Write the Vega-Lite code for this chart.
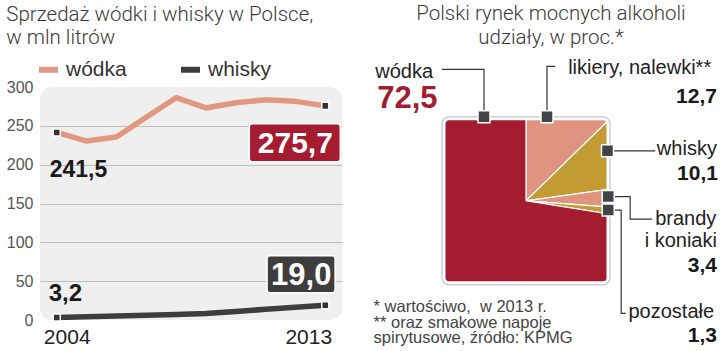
{
  "$schema": "https://vega.github.io/schema/vega-lite/v6.json",
  "padding": {"left": 6, "top": 4, "right": 0, "bottom": 0},
  "background": "#ffffff",
  "config": {
    "view": {"stroke": null},
    "font": "Liberation Sans",
    "locale": {"number": {"decimal": ",", "thousands": "\u00a0", "grouping": [3], "currency": ["", " zł"]}}
  },
  "datasets": {
    "sprzedaz": [
      {"rok": 2004, "seria": "wódka", "mln": 241.5},
      {"rok": 2005, "seria": "wódka", "mln": 230.4},
      {"rok": 2006, "seria": "wódka", "mln": 235.6},
      {"rok": 2007, "seria": "wódka", "mln": 261.0},
      {"rok": 2008, "seria": "wódka", "mln": 286.2},
      {"rok": 2009, "seria": "wódka", "mln": 273.0},
      {"rok": 2010, "seria": "wódka", "mln": 279.8},
      {"rok": 2011, "seria": "wódka", "mln": 283.6},
      {"rok": 2012, "seria": "wódka", "mln": 281.5},
      {"rok": 2013, "seria": "wódka", "mln": 275.7},
      {"rok": 2004, "seria": "whisky", "mln": 3.2},
      {"rok": 2005, "seria": "whisky", "mln": 4.1},
      {"rok": 2006, "seria": "whisky", "mln": 5.0},
      {"rok": 2007, "seria": "whisky", "mln": 6.0},
      {"rok": 2008, "seria": "whisky", "mln": 7.0},
      {"rok": 2009, "seria": "whisky", "mln": 8.3},
      {"rok": 2010, "seria": "whisky", "mln": 11.0},
      {"rok": 2011, "seria": "whisky", "mln": 13.8},
      {"rok": 2012, "seria": "whisky", "mln": 16.4},
      {"rok": 2013, "seria": "whisky", "mln": 19.0}
    ],
    "udzialy": [
      {"kategoria": "likiery, nalewki", "udzial": 12.7, "kolejnosc": 1},
      {"kategoria": "whisky", "udzial": 10.1, "kolejnosc": 2},
      {"kategoria": "brandy i koniaki", "udzial": 3.4, "kolejnosc": 3},
      {"kategoria": "pozostałe", "udzial": 1.3, "kolejnosc": 4},
      {"kategoria": "wódka", "udzial": 72.5, "kolejnosc": 5}
    ],
    "etykiety": [
      {"u": -1.795, "v": 1.458, "tekst": "wódka", "rodzaj": "nazwa"},
      {"u": -1.771, "v": 1.101, "tekst": "72,5", "rodzaj": "wyrozniona"},
      {"u": 0.502, "v": 1.510, "tekst": "likiery, nalewki**", "rodzaj": "nazwa"},
      {"u": 2.273, "v": 1.169, "tekst": "12,7", "rodzaj": "liczba"},
      {"u": 1.558, "v": 0.545, "tekst": "whisky", "rodzaj": "nazwa"},
      {"u": 2.285, "v": 0.248, "tekst": "10,1", "rodzaj": "liczba"},
      {"u": 1.538, "v": -0.288, "tekst": "brandy", "rodzaj": "nazwa"},
      {"u": 2.273, "v": -0.545, "tekst": "i koniaki", "rodzaj": "nazwa_p"},
      {"u": 2.273, "v": -0.843, "tekst": "3,4", "rodzaj": "liczba"},
      {"u": 1.220, "v": -1.399, "tekst": "pozostałe", "rodzaj": "nazwa"},
      {"u": 2.273, "v": -1.676, "tekst": "1,3", "rodzaj": "liczba"},
      {"u": -1.815, "v": -1.319, "tekst": "* wartościwo,\u00a0 w 2013 r.", "rodzaj": "przypis"},
      {"u": -1.815, "v": -1.512, "tekst": "** oraz smakowe napoje", "rodzaj": "przypis"},
      {"u": -1.815, "v": -1.696, "tekst": "spirytusowe, źródło: KPMG", "rodzaj": "przypis"}
    ],
    "linie": [
      {"id": "wódka", "krok": 1, "u": -1.0, "v": 1.565},
      {"id": "wódka", "krok": 2, "u": -0.5, "v": 1.565},
      {"id": "wódka", "krok": 3, "u": -0.5, "v": 1.002},
      {"id": "likiery", "krok": 1, "u": 0.25, "v": 1.002},
      {"id": "likiery", "krok": 2, "u": 0.25, "v": 1.601},
      {"id": "likiery", "krok": 3, "u": 0.348, "v": 1.601},
      {"id": "whisky", "krok": 1, "u": 0.97, "v": 0.595},
      {"id": "whisky", "krok": 2, "u": 1.538, "v": 0.595},
      {"id": "brandy", "krok": 1, "u": 0.979, "v": 0.05},
      {"id": "brandy", "krok": 2, "u": 1.24, "v": 0.05},
      {"id": "brandy", "krok": 3, "u": 1.24, "v": -0.217},
      {"id": "brandy", "krok": 4, "u": 1.499, "v": -0.217},
      {"id": "pozostałe", "krok": 1, "u": 0.979, "v": -0.11},
      {"id": "pozostałe", "krok": 2, "u": 1.133, "v": -0.11},
      {"id": "pozostałe", "krok": 3, "u": 1.133, "v": -1.339},
      {"id": "pozostałe", "krok": 4, "u": 1.188, "v": -1.339}
    ],
    "znaczniki": [
      {"kategoria": "wódka", "u": -0.5, "v": 1.002},
      {"kategoria": "likiery, nalewki", "u": 0.25, "v": 1.002},
      {"kategoria": "whisky", "u": 0.97, "v": 0.595},
      {"kategoria": "brandy i koniaki", "u": 0.979, "v": 0.05},
      {"kategoria": "pozostałe", "u": 0.979, "v": -0.11}
    ]
  },
  "spacing": 31,
  "resolve": {"scale": {"color": "independent"}, "legend": {"color": "independent"}},
  "hconcat": [
    {
      "width": 302,
      "height": 233,
      "data": {"name": "sprzedaz"},
      "title": {
        "text": ["Sprzedaż wódki i whisky w Polsce,", "w mln litrów"],
        "anchor": "start", "frame": "bounds", "offset": 8.5,
        "font": "Roboto", "fontSize": 20.5, "fontWeight": 300, "color": "#3a3a3a", "lineHeight": 23.5
      },
      "view": {"fill": "#efefef", "cornerRadius": 12, "stroke": null},
      "encoding": {
        "x": {
          "field": "rok", "type": "quantitative",
          "scale": {"domain": [2003.44, 2013.56], "nice": false, "zero": false},
          "axis": {
            "values": [2004, 2013], "format": "d", "title": null, "domain": false, "ticks": false, "grid": false,
            "labelFont": "Liberation Sans", "labelFontSize": 21, "labelColor": "#222222", "labelPadding": 6,
            "labelFlush": false,
            "labelOffset": {"condition": {"test": "datum.value == 2004", "value": 10}, "value": -17}
          }
        },
        "y": {
          "field": "mln", "type": "quantitative",
          "scale": {"domain": [0, 300], "nice": false, "zero": false},
          "axis": {
            "values": [0, 50, 100, 150, 200, 250, 300], "title": null, "domain": false, "ticks": false,
            "labelPadding": 7, "labelFont": "Liberation Sans", "labelFontSize": 16, "labelColor": "#555555",
            "labelFlush": false,
            "gridColor": "#bdbdbd", "gridWidth": 1,
            "gridOpacity": {"condition": {"test": "datum.value == 0 || datum.value == 300", "value": 0}, "value": 1}
          }
        }
      },
      "layer": [
        {
          "mark": {"type": "line", "strokeWidth": 5.5, "strokeCap": "butt", "strokeJoin": "round"},
          "encoding": {
            "color": {
              "field": "seria", "type": "nominal",
              "scale": {"domain": ["wódka", "whisky"], "range": ["#e2987f", "#3d3d3d"]},
              "legend": {
                "title": null, "orient": "none", "legendX": -4, "legendY": -30, "direction": "horizontal",
                "padding": 0, "symbolType": "stroke", "symbolStrokeWidth": 6, "symbolSize": 361,
                "labelFont": "Liberation Sans", "labelFontSize": 21, "labelColor": "#333333",
                "labelOffset": 5, "columnPadding": 42
              }
            }
          }
        },
        {
          "transform": [{"filter": "datum.rok == 2004 || datum.rok == 2013"}],
          "mark": {"type": "square", "size": 50, "filled": true, "fill": "#333333", "stroke": "#ffffff", "strokeWidth": 1.5, "opacity": 1}
        },
        {
          "transform": [{"filter": "datum.rok == 2013 && datum.seria == 'wódka'"}],
          "mark": {"type": "rect", "width": 91, "height": 38, "xOffset": -30.5, "yOffset": 36.8, "fill": "#a51c30", "stroke": "#ffffff", "strokeWidth": 1.5, "cornerRadius": 3}
        },
        {
          "transform": [{"filter": "datum.rok == 2013 && datum.seria == 'whisky'"}],
          "mark": {"type": "rect", "width": 68, "height": 37, "xOffset": -24.2, "yOffset": -31.1, "fill": "#3d3d3d", "stroke": "#ffffff", "strokeWidth": 1.5, "cornerRadius": 3}
        },
        {
          "transform": [{"filter": "datum.rok == 2013 && datum.seria == 'wódka'"}],
          "mark": {"type": "text", "font": "Liberation Sans", "fontWeight": "bold", "fontSize": 30, "color": "#ffffff", "align": "center", "baseline": "middle", "dx": -30, "dy": 38.6},
          "encoding": {"text": {"field": "mln", "type": "quantitative", "format": ".1f"}}
        },
        {
          "transform": [{"filter": "datum.rok == 2013 && datum.seria == 'whisky'"}],
          "mark": {"type": "text", "font": "Liberation Sans", "fontWeight": "bold", "fontSize": 31, "color": "#ffffff", "align": "center", "baseline": "middle", "dx": -24, "dy": -29.3},
          "encoding": {"text": {"field": "mln", "type": "quantitative", "format": ".1f"}}
        },
        {
          "transform": [{"filter": "datum.rok == 2004 && datum.seria == 'wódka'"}],
          "mark": {"type": "text", "font": "Liberation Sans", "fontWeight": "bold", "fontSize": 23, "color": "#1a1a1a", "align": "left", "baseline": "middle", "dx": -7, "dy": 37.2},
          "encoding": {"text": {"field": "mln", "type": "quantitative", "format": ".1f"}}
        },
        {
          "transform": [{"filter": "datum.rok == 2004 && datum.seria == 'whisky'"}],
          "mark": {"type": "text", "font": "Liberation Sans", "fontWeight": "bold", "fontSize": 24, "color": "#1a1a1a", "align": "left", "baseline": "middle", "dx": -8, "dy": -24},
          "encoding": {"text": {"field": "mln", "type": "quantitative", "format": ".1f"}}
        }
      ]
    },
    {
      "width": 168,
      "height": 197.8,
      "title": {
        "text": ["Polski rynek mocnych alkoholi", "udziały, w proc.*"],
        "anchor": "middle", "frame": "group", "dx": 25, "offset": 9.7,
        "font": "Roboto", "fontSize": 20.5, "fontWeight": 300, "color": "#3a3a3a", "lineHeight": 23.5
      },
      "layer": [
        {
          "data": {"name": "udzialy"},
          "mark": {"type": "arc", "radius": 125, "clip": true, "stroke": "#ffffff", "strokeWidth": 1.2},
          "encoding": {
            "x": {"datum": 0, "type": "quantitative", "scale": {"domain": [-1, 1], "nice": false, "zero": false}, "axis": null},
            "y": {"datum": 0, "type": "quantitative", "scale": {"domain": [-1, 1.3548], "nice": false, "zero": false}, "axis": null},
            "theta": {"field": "udzial", "type": "quantitative", "stack": true},
            "order": {"field": "kolejnosc", "type": "quantitative"},
            "color": {
              "field": "kategoria", "type": "nominal",
              "scale": {"domain": ["likiery, nalewki", "whisky", "brandy i koniaki", "pozostałe", "wódka"], "range": ["#e0937f", "#c29b32", "#e0937f", "#c29b32", "#a41c30"]},
              "legend": null
            }
          }
        },
        {
          "data": {"values": [{}]},
          "mark": {"type": "rect", "fill": "#ffffff", "stroke": null},
          "encoding": {
            "x": {"datum": -1.05, "type": "quantitative"},
            "x2": {"datum": 1.05},
            "y": {"datum": 1.0, "type": "quantitative"},
            "y2": {"datum": 1.3548}
          }
        },
        {
          "data": {"values": [{}]},
          "mark": {"type": "rect", "fill": null, "stroke": "#ffffff", "strokeWidth": 7, "cornerRadius": 7},
          "encoding": {
            "x": {"datum": -1, "type": "quantitative"},
            "x2": {"datum": 1},
            "y": {"datum": -1, "type": "quantitative"},
            "y2": {"datum": 1}
          }
        },
        {
          "data": {"values": [{}]},
          "mark": {"type": "rect", "fill": null, "stroke": "#c4c4c4", "strokeWidth": 1.2, "cornerRadius": 7},
          "encoding": {
            "x": {"datum": -1, "type": "quantitative"},
            "x2": {"datum": 1},
            "y": {"datum": -1, "type": "quantitative"},
            "y2": {"datum": 1}
          }
        },
        {
          "data": {"name": "linie"},
          "mark": {"type": "line", "color": "#333333", "strokeWidth": 1.2},
          "encoding": {
            "x": {"field": "u", "type": "quantitative"},
            "y": {"field": "v", "type": "quantitative"},
            "detail": {"field": "id"},
            "order": {"field": "krok", "type": "quantitative"}
          }
        },
        {
          "data": {"name": "znaczniki"},
          "mark": {"type": "square", "size": 144, "filled": true, "fill": "#3f4447", "stroke": "#ffffff", "strokeWidth": 1.5, "opacity": 1},
          "encoding": {
            "x": {"field": "u", "type": "quantitative"},
            "y": {"field": "v", "type": "quantitative"}
          }
        },
        {
          "data": {"name": "etykiety"},
          "transform": [{"filter": "datum.rodzaj == 'nazwa'"}],
          "mark": {"type": "text", "font": "Liberation Sans", "fontSize": 20, "color": "#222222", "align": "left", "baseline": "alphabetic"},
          "encoding": {
            "x": {"field": "u", "type": "quantitative"},
            "y": {"field": "v", "type": "quantitative"},
            "text": {"field": "tekst"}
          }
        },
        {
          "data": {"name": "etykiety"},
          "transform": [{"filter": "datum.rodzaj == 'nazwa_p'"}],
          "mark": {"type": "text", "font": "Liberation Sans", "fontSize": 20, "color": "#222222", "align": "right", "baseline": "alphabetic"},
          "encoding": {
            "x": {"field": "u", "type": "quantitative"},
            "y": {"field": "v", "type": "quantitative"},
            "text": {"field": "tekst"}
          }
        },
        {
          "data": {"name": "etykiety"},
          "transform": [{"filter": "datum.rodzaj == 'liczba'"}],
          "mark": {"type": "text", "font": "Liberation Sans", "fontWeight": "bold", "fontSize": 21, "color": "#1a1a1a", "align": "right", "baseline": "alphabetic"},
          "encoding": {
            "x": {"field": "u", "type": "quantitative"},
            "y": {"field": "v", "type": "quantitative"},
            "text": {"field": "tekst"}
          }
        },
        {
          "data": {"name": "etykiety"},
          "transform": [{"filter": "datum.rodzaj == 'wyrozniona'"}],
          "mark": {"type": "text", "font": "Liberation Sans", "fontWeight": "bold", "fontSize": 31, "color": "#a41c30", "align": "left", "baseline": "alphabetic"},
          "encoding": {
            "x": {"field": "u", "type": "quantitative"},
            "y": {"field": "v", "type": "quantitative"},
            "text": {"field": "tekst"}
          }
        },
        {
          "data": {"name": "etykiety"},
          "transform": [{"filter": "datum.rodzaj == 'przypis'"}],
          "mark": {"type": "text", "font": "Liberation Sans", "fontSize": 16.5, "color": "#444444", "align": "left", "baseline": "alphabetic"},
          "encoding": {
            "x": {"field": "u", "type": "quantitative"},
            "y": {"field": "v", "type": "quantitative"},
            "text": {"field": "tekst"}
          }
        }
      ]
    }
  ]
}
